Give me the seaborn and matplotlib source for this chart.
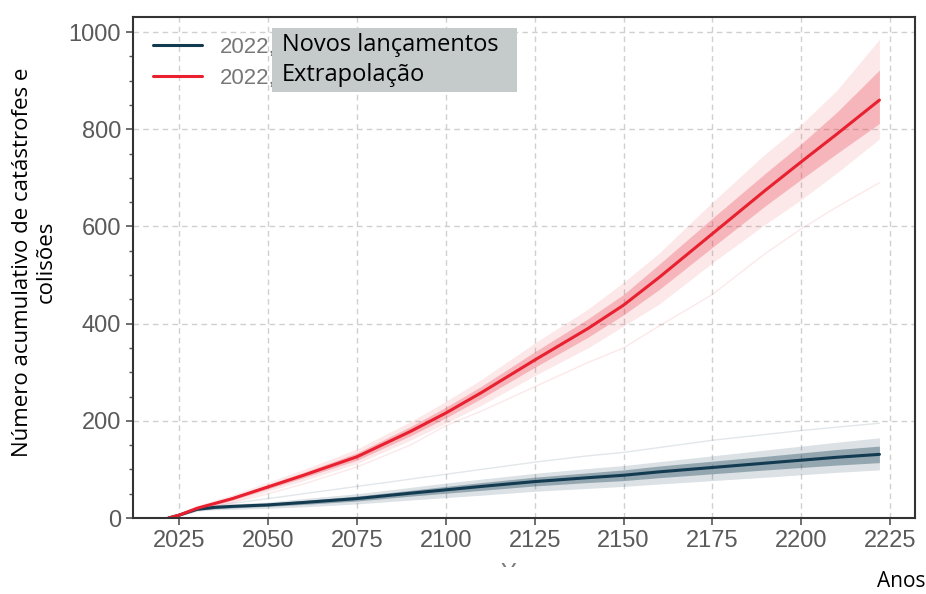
import numpy as np
import pandas as pd
import matplotlib
matplotlib.use("Agg")
import matplotlib.pyplot as plt
import seaborn as sns
from matplotlib.patches import Rectangle
from matplotlib.ticker import MultipleLocator

# === dados ===
anos = [2022, 2025, 2030, 2035, 2040, 2050, 2060, 2075, 2090, 2100,
        2110, 2125, 2140, 2150, 2160, 2175, 2190, 2200, 2210, 2222]

# série "Novos lançamentos" (azul escuro)
novos_media = [0, 6, 18, 22, 24, 27, 32, 40, 51, 58,
               65, 75, 83, 88, 95, 104, 113, 119, 125, 131]
novos_min = [0, 4, 14, 17, 18, 20, 23, 29, 37, 42,
             47, 55, 61, 65, 70, 77, 84, 89, 94, 99]
novos_max = [0, 8, 21, 26, 29, 33, 40, 50, 63, 72,
             80, 92, 102, 108, 116, 128, 140, 148, 156, 165]
novos_int_min = [0, 5, 16, 19, 21, 24, 28, 35, 45, 51,
                 57, 66, 73, 77, 83, 91, 99, 104, 109, 114]
novos_int_max = [0, 7, 20, 24, 27, 30, 36, 45, 57, 65,
                 73, 84, 93, 99, 107, 117, 127, 134, 141, 148]
novos_outlier = [0, 6, 19, 24, 30, 40, 50, 65, 80, 90,
                 100, 115, 128, 135, 145, 160, 172, 180, 187, 195]

# série "Extrapolação" (vermelho)
extra_media = [0, 6, 20, 30, 40, 64, 88, 126, 178, 216,
               258, 325, 390, 438, 495, 585, 675, 733, 790, 860]
extra_min = [0, 3, 15, 24, 33, 55, 77, 112, 160, 195,
             232, 293, 350, 395, 440, 525, 605, 655, 710, 780]
extra_max = [0, 9, 26, 37, 48, 74, 100, 142, 198, 240,
             285, 360, 430, 485, 545, 650, 750, 810, 880, 985]
extra_int_min = [0, 5, 18, 27, 37, 60, 83, 119, 169, 206,
                 246, 310, 372, 418, 470, 557, 643, 697, 750, 812]
extra_int_max = [0, 7, 23, 33, 44, 69, 94, 134, 188, 228,
                 271, 342, 410, 460, 522, 617, 710, 770, 835, 922]
extra_outlier = [0, 5, 16, 24, 32, 50, 70, 105, 150, 190,
                 220, 270, 320, 350, 395, 460, 545, 595, 640, 690]

rotulos = ["2022, Novos lançamentos", "2022, Extrapolação"]
cores = ["#123a50", "#e8202f"]

df = pd.DataFrame({
    "Ano": anos * 2,
    "Total": novos_media + extra_media,
    "Cenário": [rotulos[0]] * len(anos) + [rotulos[1]] * len(anos),
})

# === figura ===
sns.set_style("ticks")
plt.rcParams["font.family"] = ["Liberation Sans", "DejaVu Sans"]
fonte_pt = ["Open Sans", "DejaVu Sans"]

fig = plt.figure(figsize=(9.26, 5.94), dpi=100)
ax = fig.add_axes([0.1436, 0.1279, 0.8445, 0.8443])

# faixas dos conjuntos de simulações
ax.fill_between(anos, extra_min, extra_max, color=cores[1], alpha=0.10, lw=0)
ax.fill_between(anos, extra_int_min, extra_int_max, color=cores[1], alpha=0.25, lw=0)
ax.plot(anos, extra_outlier, color=cores[1], alpha=0.10, lw=1)
ax.fill_between(anos, novos_min, novos_max, color=cores[0], alpha=0.15, lw=0)
ax.fill_between(anos, novos_int_min, novos_int_max, color=cores[0], alpha=0.35, lw=0)
ax.plot(anos, novos_outlier, color=cores[0], alpha=0.12, lw=1)

sns.lineplot(data=df, x="Ano", y="Total", hue="Cenário", hue_order=rotulos,
             palette=cores, linewidth=2.2, ax=ax)

ax.set_xlim(2012, 2232)
ax.set_ylim(0, 1032)
ax.set_xticks(np.arange(2025, 2226, 25))
ax.set_yticks(np.arange(0, 1001, 200))
ax.yaxis.set_minor_locator(MultipleLocator(50))
ax.grid(True, which="major", ls=(0, (4, 3)), color="#d0d0d0", lw=1)

ax.tick_params(axis="both", which="major", labelsize=17, labelcolor="#5a5a5a",
               color="#555555", length=5, width=1.2, direction="out")
ax.tick_params(axis="y", which="minor", color="#555555", length=3, width=1)
for spine in ax.spines.values():
    spine.set_visible(True)
    spine.set_color("#333333")
    spine.set_linewidth(1.5)

ax.set_xlabel("Year", fontsize=17, color="#7a7a7a", labelpad=8)
ax.set_ylabel("Número acumulativo de catástrofes e\ncolisões", fontsize=16,
              family=fonte_pt, color="black", linespacing=1.2)
ax.yaxis.set_label_coords(-0.097, 0.51)

leg = ax.legend(loc="upper left", bbox_to_anchor=(0.0, 1.0), frameon=False,
                fontsize=16, handlelength=2.2, labelspacing=0.45,
                borderaxespad=0.5)
# o resto do rótulo fica escondido pela caixa cinzenta
for t in leg.get_texts():
    t.set_text(t.get_text().split(" ")[0])
    t.set_color("#777777")

# caixa cinzenta com a tradução sobre a legenda
fig.patches.append(Rectangle((272 / 926, 1 - 92 / 594), 245 / 926, 64 / 594,
                             transform=fig.transFigure, facecolor="#c5cacb",
                             edgecolor="none", zorder=5))
fig.text(282 / 926, 1 - 45 / 594, "Novos lançamentos", fontsize=17, va="center",
         family=fonte_pt, color="black", zorder=6)
fig.text(282 / 926, 1 - 75 / 594, "Extrapolação", fontsize=17, va="center",
         family=fonte_pt, color="black", zorder=6)

# faixa branca que esconde parte do rótulo original do eixo x
fig.patches.append(Rectangle((0, 0), 1, 27 / 594, transform=fig.transFigure,
                             facecolor="white", edgecolor="none", zorder=5))
fig.text(0.999, 0.004, "Anos", fontsize=15, ha="right", va="bottom",
         family=fonte_pt, color="black", zorder=6)

fig.savefig("out.png", dpi=100)
